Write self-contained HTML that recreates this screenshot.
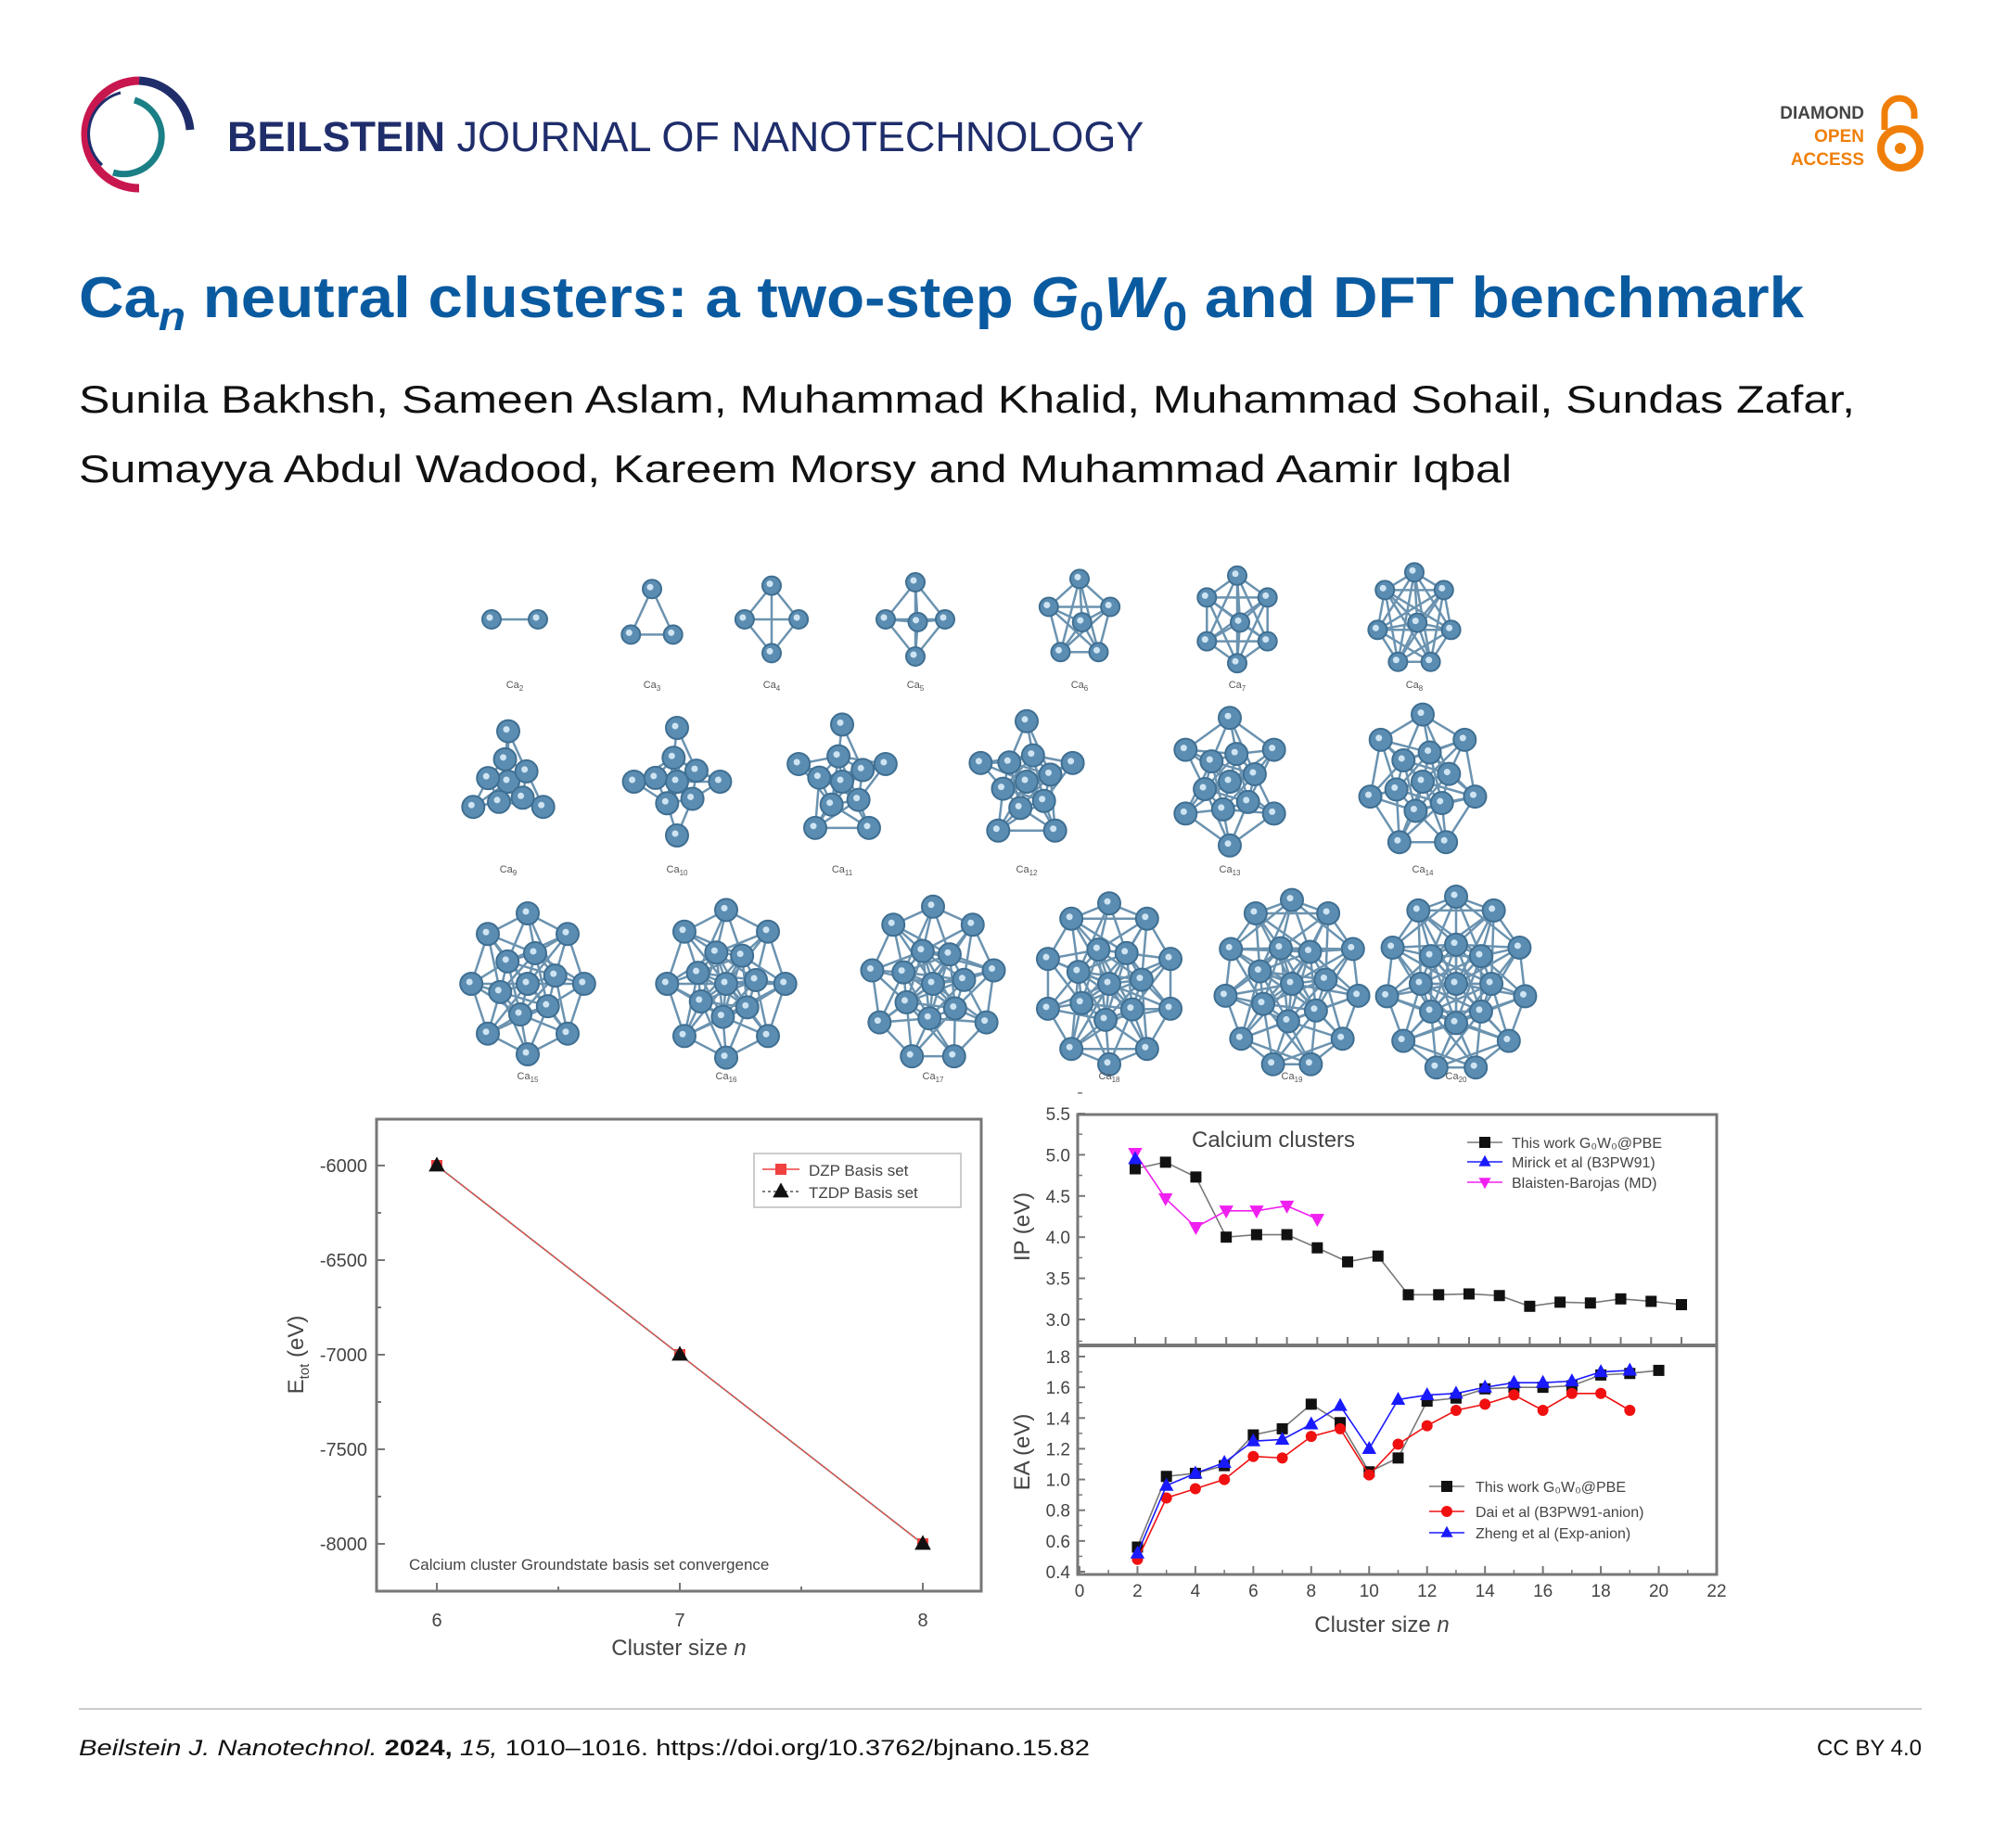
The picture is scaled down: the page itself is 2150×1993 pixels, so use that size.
<!DOCTYPE html>
<html><head><meta charset="utf-8"><style>
html,body{margin:0;padding:0;background:#fff;}
svg{display:block;font-family:"Liberation Sans",Arial,sans-serif;}
</style></head><body>
<svg id="page" width="2150" height="1993" viewBox="0 0 2150 1993" xmlns="http://www.w3.org/2000/svg">
<rect width="2150" height="1993" fill="#fff"/>
<g>
  <path d="M150 87 A58 58 0 1 0 150 203" fill="none" stroke="#c8174f" stroke-width="9"/>
  <path d="M150 87 A58 58 0 0 1 205 140" fill="none" stroke="#1f2d6b" stroke-width="9"/>
  <path d="M145 108 A38 38 0 1 1 122 186" fill="none" stroke="#1b7f86" stroke-width="7"/>
  <path d="M130 100 A46 46 0 0 0 110 178" fill="none" stroke="#1f2d6b" stroke-width="3"/>
</g>
<text x="245" y="163" font-size="45" fill="#1f2d6b"><tspan font-weight="bold">BEILSTEIN</tspan> JOURNAL OF NANOTECHNOLOGY</text>
<g font-weight="bold" font-size="19" text-anchor="end">
  <text x="2010" y="128" fill="#444">DIAMOND</text>
  <text x="2010" y="153" fill="#f07f09">OPEN</text>
  <text x="2010" y="178" fill="#f07f09">ACCESS</text>
  <path d="M2032 140 V122 A16 16 0 0 1 2064 122 V128" fill="none" stroke="#f07f09" stroke-width="7"/>
  <circle cx="2049" cy="160" r="21" fill="none" stroke="#f07f09" stroke-width="8"/>
  <circle cx="2049" cy="160" r="6" fill="#f07f09"/>
</g>
<text x="85" y="342" font-size="62" font-weight="bold" fill="#0a5aa0" textLength="1860" lengthAdjust="spacingAndGlyphs">Ca<tspan font-style="italic" font-size="44" dy="14">n</tspan><tspan dy="-14"> neutral clusters: a two-step </tspan><tspan font-style="italic">G</tspan><tspan font-size="44" dy="14">0</tspan><tspan font-style="italic" dy="-14">W</tspan><tspan font-size="44" dy="14">0</tspan><tspan dy="-14"> and DFT benchmark</tspan></text>
<text x="85" y="445" font-size="42" fill="#111" textLength="1915" lengthAdjust="spacingAndGlyphs">Sunila Bakhsh, Sameen Aslam, Muhammad Khalid, Muhammad Sohail, Sundas Zafar,</text>
<text x="85" y="520" font-size="42" fill="#111" textLength="1545" lengthAdjust="spacingAndGlyphs">Sumayya Abdul Wadood, Kareem Morsy and Muhammad Aamir Iqbal</text>

<g id="clusters"></g>
<g id="etot"></g>
<g id="ipea"></g>

<line x1="85" y1="1843" x2="2072" y2="1843" stroke="#ccc" stroke-width="2"/>
<text x="85" y="1893" font-size="24" fill="#111" textLength="1090" lengthAdjust="spacingAndGlyphs"><tspan font-style="italic">Beilstein J. Nanotechnol.</tspan> <tspan font-weight="bold">2024,</tspan> <tspan font-style="italic">15,</tspan> 1010–1016. https://doi.org/10.3762/bjnano.15.82</text>
<text x="2072" y="1893" font-size="24" fill="#111" text-anchor="end">CC BY 4.0</text>
</svg>
<script>
const etotSizes = [6, 7, 8];
const etotDZP = [-6000, -7000, -8000];
const etotTZDP = [-6000, -7000, -8000];
const etotTicks = [-6000, -6500, -7000, -7500, -8000];

const ipSizes = [2,3,4,5,6,7,8,9,10,11,12,13,14,15,16,17,18,19,20];
const ipThisWork = [4.83,4.91,4.73,4.00,4.03,4.03,3.87,3.70,3.77,3.30,3.30,3.31,3.29,3.16,3.21,3.20,3.25,3.22,3.18];
const ipMirickSizes = [2];
const ipMirick = [4.95];
const ipBlaistenSizes = [2,3,4,5,6,7,8];
const ipBlaisten = [5.02,4.47,4.12,4.32,4.32,4.38,4.22];
const ipTicks = [3.0,3.5,4.0,4.5,5.0,5.5];

const eaThisSizes = [2,3,4,5,6,7,8,9,10,11,12,13,14,15,16,17,18,19,20];
const eaThisWork = [0.56,1.02,1.04,1.09,1.29,1.33,1.49,1.37,1.05,1.14,1.51,1.53,1.59,1.60,1.60,1.61,1.68,1.69,1.71];
const eaDaiSizes = [2,3,4,5,6,7,8,9,10,11,12,13,14,15,16,17,18,19];
const eaDai = [0.48,0.88,0.94,1.00,1.15,1.14,1.28,1.33,1.03,1.23,1.35,1.45,1.49,1.55,1.45,1.56,1.56,1.45];
const eaZhengSizes = [2,3,4,5,6,7,8,9,10,11,12,13,14,15,16,17,18,19];
const eaZheng = [0.52,0.96,1.04,1.11,1.25,1.26,1.36,1.48,1.20,1.52,1.55,1.56,1.60,1.63,1.63,1.64,1.70,1.71];
const eaTicks = [0.4,0.6,0.8,1.0,1.2,1.4,1.6,1.8];
const xTicks = [0,2,4,6,8,10,12,14,16,18,20,22];

const NS = "http://www.w3.org/2000/svg";
function mk(parent, tag, attrs, text) {
  const e = document.createElementNS(NS, tag);
  for (const k in attrs) e.setAttribute(k, attrs[k]);
  if (text !== undefined) e.textContent = text;
  parent.appendChild(e);
  return e;
}
function marker(g, type, x, y, color, s) {
  let e;
  if (type === 'sq') e = mk(g, 'rect', {x: x - s, y: y - s, width: 2 * s, height: 2 * s, fill: color});
  else if (type === 'ci') e = mk(g, 'circle', {cx: x, cy: y, r: s, fill: color});
  else if (type === 'up') e = mk(g, 'polygon', {points: `${x},${y - s * 1.2} ${x - s * 1.1},${y + s * 0.8} ${x + s * 1.1},${y + s * 0.8}`, fill: color});
  else e = mk(g, 'polygon', {points: `${x},${y + s * 1.2} ${x - s * 1.1},${y - s * 0.8} ${x + s * 1.1},${y - s * 0.8}`, fill: color});
  return e;
}
function series(g, xs, ys, xf, yf, color, type, name, s) {
  const sg = mk(g, 'g', {});
  
  
  const pts = xs.map((v, i) => xf(v) + ',' + yf(ys[i])).join(' ');
  mk(sg, 'polyline', {points: pts, fill: 'none', stroke: color, 'stroke-width': 1.6});
  xs.forEach((v, i) => {
    const m = marker(sg, type, xf(v), yf(ys[i]), color, s);
    
    
  });
}

(function () {
  const g = document.getElementById('etot');
  const L = 406, R = 1058, T = 1207, B = 1716;
  const xf = v => 471 + (v - 6) * (995 - 471) / 2;
  const yf = v => 1257 + (v + 6000) * (1665 - 1257) / -2000;
  mk(g, 'rect', {x: L, y: T, width: R - L, height: B - T, fill: '#fff', stroke: '#777', 'stroke-width': 3});
  etotTicks.forEach(t => {
    mk(g, 'line', {x1: L, y1: yf(t), x2: L + 9, y2: yf(t), stroke: '#777', 'stroke-width': 2});
    const tl = mk(g, 'text', {x: L - 10, y: yf(t) + 7, 'font-size': 20, 'text-anchor': 'end', fill: '#444'}, String(t));
    
    
  });
  [-6250, -6750, -7250, -7750].forEach(t => mk(g, 'line', {x1: L, y1: yf(t), x2: L + 5, y2: yf(t), stroke: '#777', 'stroke-width': 2}));
  etotSizes.forEach(t => {
    mk(g, 'line', {x1: xf(t), y1: B, x2: xf(t), y2: B - 9, stroke: '#777', 'stroke-width': 2});
    const tl = mk(g, 'text', {x: xf(t), y: B + 38, 'font-size': 20, 'text-anchor': 'middle', fill: '#444'}, String(t));
    
    
  });
  [6.5, 7.5].forEach(t => mk(g, 'line', {x1: xf(t), y1: B, x2: xf(t), y2: B - 5, stroke: '#777', 'stroke-width': 2}));
  series(g, etotSizes, etotDZP, xf, yf, '#f04040', 'sq', 'dzp-series', 6);
  series(g, etotSizes, etotTZDP, xf, yf, '#8a7a70', 'up', 'tzdp-series', 8);
  g.lastChild.querySelector('polyline').setAttribute('stroke-dasharray', '3,3');
  g.lastChild.querySelectorAll('polygon').forEach(p => p.setAttribute('fill', '#111'));
  const lg = mk(g, 'g', {});
  
  
  mk(lg, 'rect', {x: 813, y: 1244, width: 223, height: 58, fill: '#fff', stroke: '#ccc', 'stroke-width': 2});
  mk(lg, 'line', {x1: 822, y1: 1261, x2: 862, y2: 1261, stroke: '#f04040', 'stroke-width': 1.5});
  marker(lg, 'sq', 842, 1261, '#f04040', 6);
  mk(lg, 'text', {x: 872, y: 1268, 'font-size': 17, fill: '#444'}, 'DZP Basis set');
  mk(lg, 'line', {x1: 822, y1: 1285, x2: 862, y2: 1285, stroke: '#555', 'stroke-width': 1.5, 'stroke-dasharray': '3,3'});
  marker(lg, 'up', 842, 1285, '#111', 8);
  mk(lg, 'text', {x: 872, y: 1292, 'font-size': 17, fill: '#444'}, 'TZDP Basis set');
  mk(g, 'text', {x: 441, y: 1693, 'font-size': 17, fill: '#444'}, 'Calcium cluster Groundstate basis set convergence');
  const xt = mk(g, 'text', {x: 732, y: 1785, 'font-size': 24, 'text-anchor': 'middle', fill: '#444'});
  xt.innerHTML = 'Cluster size <tspan font-style="italic">n</tspan>';
  
  
  const yt = mk(g, 'text', {x: 0, y: 0, 'font-size': 24, 'text-anchor': 'middle', fill: '#444', transform: 'translate(327,1461) rotate(-90)'});
  yt.innerHTML = 'E<tspan font-size="15" dy="6">tot</tspan><tspan dy="-6"> (eV)</tspan>';
  
  
})();

(function () {
  const g = document.getElementById('ipea');
  const L = 1162, R = 1851, T = 1202, M = 1451, B = 1698;
  const xf = v => 1164 + v * (1851 - 1164) / 22;
  const xip = v => 1224 + (v - 2) * (1813 - 1224) / 18;
  const yip = v => 1201 + (5.5 - v) * (1423 - 1201) / 2.5;
  const yea = v => 1463 + (1.8 - v) * (1695 - 1463) / 1.4;
  mk(g, 'rect', {x: L, y: T, width: R - L, height: B - T, fill: '#fff', stroke: '#777', 'stroke-width': 3});
  mk(g, 'line', {x1: L, y1: M, x2: R, y2: M, stroke: '#777', 'stroke-width': 4});
  ipTicks.forEach(t => {
    mk(g, 'line', {x1: L, y1: yip(t), x2: L + 8, y2: yip(t), stroke: '#777', 'stroke-width': 2});
    mk(g, 'line', {x1: L, y1: yip(t + 0.25), x2: L + 5, y2: yip(t + 0.25), stroke: '#777', 'stroke-width': 1.5});
    const tl = mk(g, 'text', {x: L - 8, y: yip(t) + 7, 'font-size': 19, 'text-anchor': 'end', fill: '#444'}, t.toFixed(1));
    
    
  });
  eaTicks.forEach(t => {
    mk(g, 'line', {x1: L, y1: yea(t), x2: L + 8, y2: yea(t), stroke: '#777', 'stroke-width': 2});
    mk(g, 'line', {x1: L, y1: yea(t + 0.1), x2: L + 5, y2: yea(t + 0.1), stroke: '#777', 'stroke-width': 1.5});
    const tl = mk(g, 'text', {x: L - 8, y: yea(t) + 7, 'font-size': 19, 'text-anchor': 'end', fill: '#444'}, t.toFixed(1));
    
    
  });
  xTicks.forEach(t => {
    mk(g, 'line', {x1: xf(t), y1: B, x2: xf(t), y2: B - 9, stroke: '#777', 'stroke-width': 2});
    if (t < 22) mk(g, 'line', {x1: xf(t + 1), y1: B, x2: xf(t + 1), y2: B - 5, stroke: '#777', 'stroke-width': 1.5});
    const tl = mk(g, 'text', {x: xf(t), y: B + 24, 'font-size': 19, 'text-anchor': 'middle', fill: '#444'}, String(t));
    
    
  });
  ipSizes.forEach(t => mk(g, 'line', {x1: xip(t), y1: M, x2: xip(t), y2: M - 9, stroke: '#777', 'stroke-width': 2}));
  series(g, ipSizes, ipThisWork, xip, yip, '#111', 'sq', 'ip-this-work-series', 6);
  g.lastChild.querySelector('polyline').setAttribute('stroke', '#777');
  series(g, ipBlaistenSizes, ipBlaisten, xip, yip, '#f020f0', 'dn', 'ip-blaisten-series', 7);
  series(g, ipMirickSizes, ipMirick, xip, yip, '#1a1aff', 'up', 'ip-mirick-series', 7);
  series(g, eaThisSizes, eaThisWork, xf, yea, '#111', 'sq', 'ea-this-work-series', 6);
  g.lastChild.querySelector('polyline').setAttribute('stroke', '#777');
  series(g, eaDaiSizes, eaDai, xf, yea, '#f01010', 'ci', 'ea-dai-series', 6);
  series(g, eaZhengSizes, eaZheng, xf, yea, '#1a1aff', 'up', 'ea-zheng-series', 7);
  mk(g, 'text', {x: 1285, y: 1237, 'font-size': 24, fill: '#444'}, 'Calcium clusters');
  const leg1 = mk(g, 'g', {});
  
  
  [['sq', '#111', 'This work G\u2080W\u2080@PBE', 1232], ['up', '#1a1aff', 'Mirick et al (B3PW91)', 1253], ['dn', '#f020f0', 'Blaisten-Barojas (MD)', 1275]].forEach(r => {
    mk(leg1, 'line', {x1: 1582, y1: r[3], x2: 1620, y2: r[3], stroke: r[1] === '#111' ? '#777' : r[1], 'stroke-width': 1.5});
    marker(leg1, r[0], 1601, r[3], r[1], 6);
    mk(leg1, 'text', {x: 1630, y: r[3] + 6, 'font-size': 16, fill: '#444'}, r[2]);
  });
  const leg2 = mk(g, 'g', {});
  
  
  [['sq', '#111', 'This work G\u2080W\u2080@PBE', 1603], ['ci', '#f01010', 'Dai et al (B3PW91-anion)', 1630], ['up', '#1a1aff', 'Zheng et al (Exp-anion)', 1653]].forEach(r => {
    mk(leg2, 'line', {x1: 1541, y1: r[3], x2: 1579, y2: r[3], stroke: r[1] === '#111' ? '#777' : r[1], 'stroke-width': 1.5});
    marker(leg2, r[0], 1560, r[3], r[1], 6);
    mk(leg2, 'text', {x: 1591, y: r[3] + 6, 'font-size': 16, fill: '#444'}, r[2]);
  });
  const xt = mk(g, 'text', {x: 1490, y: 1760, 'font-size': 24, 'text-anchor': 'middle', fill: '#444'});
  xt.innerHTML = 'Cluster size <tspan font-style="italic">n</tspan>';
  
  
  const y1 = mk(g, 'text', {x: 0, y: 0, 'font-size': 24, 'text-anchor': 'middle', fill: '#444', transform: 'translate(1110,1323) rotate(-90)'}, 'IP (eV)');
  
  
  const y2 = mk(g, 'text', {x: 0, y: 0, 'font-size': 24, 'text-anchor': 'middle', fill: '#444', transform: 'translate(1110,1566) rotate(-90)'}, 'EA (eV)');
  
  
})();

(function () {
  const g = document.getElementById('clusters');
  const rows = [
    {y: 668, ly: 742, ns: [2,3,4,5,6,7,8], xs: [555,703,832,987,1164,1334,1525]},
    {y: 843, ly: 941, ns: [9,10,11,12,13,14], xs: [548,730,908,1107,1326,1534]},
    {y: 1061, ly: 1164, ns: [15,16,17,18,19,20], xs: [569,783,1006,1196,1393,1570]}
  ];
  rows.forEach(row => row.ns.forEach((n, i) => {
    const cg = mk(g, 'g', {});
    
    
    const cx = row.xs[i], cy = row.y;
    const pts = [];
    if (n === 2) { pts.push([cx - 25, cy], [cx + 25, cy]); }
    else {
      const R = 22 + n * 3.6;
      const inner = n >= 9 ? Math.min(n - 1, 3 + Math.floor(n / 4)) : (n >= 5 ? 1 : 0);
      const outer = n - inner - (n >= 9 ? 1 : 0);
      if (n >= 9) pts.push([cx, cy]);
      for (let k = 0; k < outer; k++) {
        const a = -Math.PI / 2 + 2 * Math.PI * k / outer;
        pts.push([cx + R * 0.8 * Math.cos(a), cy + R * Math.sin(a)]);
      }
      for (let k = 0; k < inner; k++) {
        const a = Math.PI / 4 + 2 * Math.PI * k / inner;
        const rr = inner === 1 ? 0.1 : 0.45;
        pts.push([cx + R * rr * 0.9 * Math.cos(a), cy + R * rr * Math.sin(a)]);
      }
    }
    const dmax = n === 2 ? 60 : (n < 9 ? 200 : 26 + n * 3.2);
    for (let a = 0; a < pts.length; a++) for (let b = a + 1; b < pts.length; b++) {
      const d = Math.hypot(pts[a][0] - pts[b][0], pts[a][1] - pts[b][1]);
      if (d < dmax) mk(cg, 'line', {x1: pts[a][0], y1: pts[a][1], x2: pts[b][0], y2: pts[b][1], stroke: '#6b93b0', 'stroke-width': 2.5});
    }
    pts.forEach(p => {
      mk(cg, 'circle', {cx: p[0], cy: p[1], r: n < 9 ? 10 : 12, fill: '#5b8db2', stroke: '#3f6f92', 'stroke-width': 2});
      mk(cg, 'circle', {cx: p[0] - 2, cy: p[1] - 2, r: 3.5, fill: '#cfe4f2'});
    });
    const lt = mk(g, 'text', {x: cx, y: row.ly, 'font-size': 11, 'text-anchor': 'middle', fill: '#555'});
    lt.innerHTML = 'Ca<tspan font-size="8" dy="3">' + n + '</tspan>';
    
    
  }));
})();
</script>
</body></html>
